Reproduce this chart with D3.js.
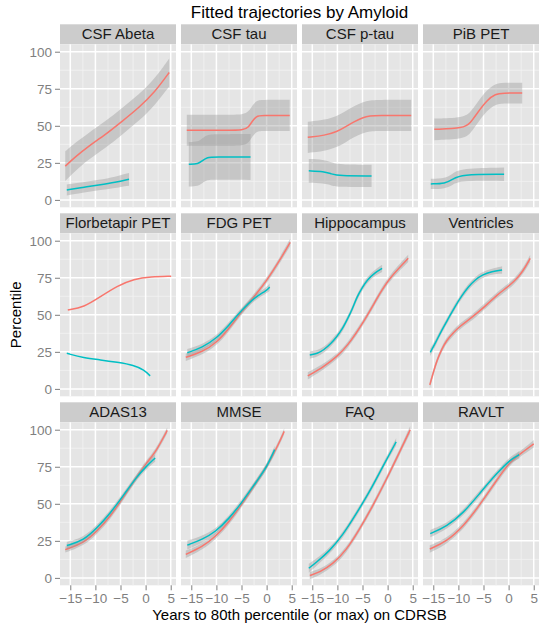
<!DOCTYPE html>
<html>
<head>
<meta charset="utf-8">
<script src="https://cdn.jsdelivr.net/npm/d3@7"></script>
<style>
  body { margin: 0; background: #fff; }
  text { font-family: "Liberation Sans", Arial, sans-serif; }
</style>
</head>
<body>
<svg id="chart"></svg>
<script>
// facet names, in reading order
const panelNames = ['CSF Abeta', 'CSF tau', 'CSF p-tau', 'PiB PET',
                    'Florbetapir PET', 'FDG PET', 'Hippocampus', 'Ventricles',
                    'ADAS13', 'MMSE', 'FAQ', 'RAVLT'];
const xTicks = [-15, -10, -5, 0, 5];
const yTicks = [0, 25, 50, 75, 100];

// [year, percentile, ribbon half width]  -- Pos = amyloid positive (red), Neg = negative (teal)
const abetaPos = [[-16,22.8,10],[-14,29,9.5],[-11.4,36.2,9],[-8,44,9],[-4.7,53,9],[-1.4,62,9],[1.9,73,9],[4.7,86,9.5]];
const abetaNeg = [[-15.7,6.7,3.7],[-12.5,8.4,3.5],[-9.4,10,3.5],[-6,11.8,3.8],[-3.3,13.9,4.3]];
const tauPos = [[-15.9,47,10.5],[-8,47,10.5],[-4.6,47,10.5],[-3.6,49,10.5],[-2.8,53.5,10.5],[-2,56.5,10.5],[-1.2,57,10.5],[4.6,57,10.5]];
const tauNeg = [[-15.5,24,15],[-13.6,24.2,15],[-12.8,26.5,15],[-11.8,28.8,15.2],[-10.5,29,15.3],[-3.2,29,15.5]];
const ptauPos = [[-15.9,42.2,10.5],[-12.5,43.5,10.5],[-10.1,46,10.5],[-8.3,49.5,10.5],[-6.7,52.8,10.5],[-5,55.5,10.5],[-3.5,56.8,10.5],[-2,57,10.5],[4.7,57,10.5]];
const ptauNeg = [[-15.7,19.6,8],[-12.7,19.2,8],[-11.2,17.5,7.8],[-9.7,16.2,7.6],[-3.2,16.2,7.5]];
const pibPos = [[-14.8,47.6,7.3],[-8.9,48.3,7.2],[-7.6,52,7.2],[-6.3,58.4,7.1],[-4.3,67.4,7],[-2.6,71.5,7],[-1.2,72.1,7],[2.7,72.1,7]];
const pibNeg = [[-15.5,10.8,3.4],[-12.6,11,3.5],[-11.1,14,3.8],[-9.6,17.2,4.2],[-0.9,17.3,4.5]];
const florPos = [[-15.5,53.3,0],[-12.3,55,0],[-9,62.2,0],[-5.7,69.4,0],[-2.3,74.2,0],[1,75.7,0],[5.1,76,0]];
const florNeg = [[-15.7,24,0],[-12.3,20.9,0],[-9,19.6,0],[-5.7,18,0],[-2.3,16,0],[-0.3,12.8,0],[0.9,8.8,0]];
const fdgPos = [[-16.1,21.3,2.5],[-12.8,25,2],[-10,31,2],[-7.5,40.7,2],[-5,52,2],[-2.3,63,2],[0,73,2],[2.4,85.5,2],[4.7,98.9,2.5]];
const fdgNeg = [[-15.8,24.4,2.5],[-12.8,28,2],[-10,34,2],[-7.5,43,2],[-5,53,2],[-2.3,62,2],[0,66.4,2],[0.6,68.7,2.5]];
const hippoPos = [[-15.9,8.8,2.5],[-12.7,15,2],[-10.1,21.8,2],[-8.1,28.5,2],[-4.7,45.4,2],[-1.4,65.6,2],[0.6,75.7,2],[4.1,88.1,2.5]];
const hippoNeg = [[-15.5,22.9,2.5],[-14,23.8,2.2],[-12.7,26.3,2],[-11.3,30.5,2],[-10.1,35.3,2],[-9,40.5,2],[-8.1,46.5,2],[-7,54,2],[-6.1,62.2,2],[-5,68.5,2],[-4.1,73.5,2],[-2.5,78.5,2],[-1.1,81.3,2.5]];
const ventPos = [[-15.7,2.7,2.5],[-15,11,2.2],[-14.3,19,2],[-13.3,27,2],[-12.3,33,2],[-11,38,2],[-9.6,42.5,2],[-8,46.5,2],[-6.3,51,2],[-4.3,57,2],[-2.3,63.4,2],[-0.5,68,2],[1.1,72.4,2],[2.8,79,2],[4.3,88.1,2.5]];
const ventNeg = [[-15.6,24.7,2.5],[-14.5,31.5,2.2],[-13.3,39.8,2],[-12,47.5,2],[-10.7,55.5,2],[-9.3,63,2],[-8,69,2],[-6.7,73.5,2],[-5.3,76.9,2],[-3.3,79.3,2],[-1.3,80.2,2.5]];
const adasPos = [[-16,19.1,2],[-12.3,23.6,2],[-9.7,31.4,2],[-7,41.6,2],[-4.3,55,2],[-1.7,68.5,2],[0,77,2],[1.9,84.2,2],[4.3,99.5,2]];
const adasNeg = [[-15.7,21.8,2.5],[-12.3,25.4,2],[-9.7,33.7,2],[-7,43.8,2],[-4.3,56.2,2],[-1.7,68.5,2],[0,74.8,2],[1.9,80.9,2.5]];
const mmsePos = [[-16.1,15.9,2.5],[-12.8,21,2],[-10.2,27.7,2],[-7.5,37.8,2],[-4.9,49.7,2],[-1.6,67,2],[0,74.7,2],[2.4,90.4,2],[3.5,98.9,2]];
const mmseNeg = [[-15.8,22.1,3],[-12.8,26,2.5],[-10.2,31,2],[-7.5,40,2],[-4.9,51,2],[-1.6,67,2],[0,74.7,2],[1.6,86.6,2.5]];
const faqPos = [[-15.5,1.6,2.5],[-13.5,3.8,2],[-10.9,9.4,2],[-8.3,18.3,2],[-5.6,32.7,2],[-3,48.3,2],[-0.3,66,2],[2.4,85,2],[4.5,100,2.5]];
const faqNeg = [[-15.7,6.5,3],[-14.2,10.5,2.5],[-11.6,18,2],[-8.9,29,2],[-6.3,43,2],[-3.6,58,2],[-1,75,2],[1.7,91.8,2.5]];
const ravltPos = [[-15.7,19.5,2.5],[-12.3,24.7,2],[-9,34.8,2],[-5.7,49.4,2],[-2.3,66.3,2],[0.3,78.6,2],[3,85.4,2],[5,90.5,2.5]];
const ravltNeg = [[-15.6,29.9,2.5],[-12.3,34.8,2],[-9,43.8,2],[-5.7,57.3,2],[-2.3,70.8,2],[0.3,79.8,2],[2.1,83.1,2.5]];

const posCurves = [abetaPos, tauPos, ptauPos, pibPos, florPos, fdgPos, hippoPos, ventPos, adasPos, mmsePos, faqPos, ravltPos];
const negCurves = [abetaNeg, tauNeg, ptauNeg, pibNeg, florNeg, fdgNeg, hippoNeg, ventNeg, adasNeg, mmseNeg, faqNeg, ravltNeg];

const w = 539;
const h = 630;
const padLeft = 60, padTop = 44.3;
const pw = 116, ph = 163;
const gapx = 5, stripH = 20, rowStep = 189;

const svg = d3.select('#chart').attr('width', w).attr('height', h);

const xScale = d3.scaleLinear().domain([-17.05, 6.05]).range([0, pw]);
const yScale = d3.scaleLinear().domain([-5, 105]).range([ph, 0]);

const line = d3.line()
  .x((d) => xScale(d[0]))
  .y((d) => yScale(d[1]))
  .curve(d3.curveBasis);
const band = d3.area()
  .x((d) => xScale(d[0]))
  .y0((d) => yScale(d[1] - d[2]))
  .y1((d) => yScale(d[1] + d[2]))
  .curve(d3.curveBasis);

svg.append('text')
  .attr('x', padLeft + (4 * pw + 3 * gapx) / 2)
  .attr('y', 18)
  .attr('text-anchor', 'middle')
  .attr('font-size', 17)
  .attr('fill', '#000')
  .text('Fitted trajectories by Amyloid');

panelNames.forEach((name, i) => {
  const col = i % 4, row = Math.floor(i / 4);
  const g = svg.append('g')
    .attr('transform', 'translate(' + (padLeft + col * (pw + gapx)) + ',' + (padTop + row * rowStep) + ')');

  // strip
  g.append('rect').attr('x', 0).attr('y', -stripH).attr('width', pw).attr('height', stripH).attr('fill', '#CCCCCC');
  g.append('text')
    .attr('x', pw / 2).attr('y', -5)
    .attr('text-anchor', 'middle')
    .attr('font-size', 15)
    .attr('fill', '#1A1A1A')
    .text(name);

  // panel + grid
  g.append('rect').attr('width', pw).attr('height', ph).attr('fill', '#E5E5E5');
  const minorX = [-12.5, -7.5, -2.5, 2.5];
  const minorY = [12.5, 37.5, 62.5, 87.5];
  g.selectAll('.mx').data(minorX).enter().append('line')
    .attr('x1', (d) => xScale(d)).attr('x2', (d) => xScale(d))
    .attr('y1', 0).attr('y2', ph)
    .attr('stroke', '#F2F2F2').attr('stroke-width', 0.8);
  g.selectAll('.my').data(minorY).enter().append('line')
    .attr('y1', (d) => yScale(d)).attr('y2', (d) => yScale(d))
    .attr('x1', 0).attr('x2', pw)
    .attr('stroke', '#F2F2F2').attr('stroke-width', 0.8);
  g.selectAll('.gx').data(xTicks).enter().append('line')
    .attr('x1', (d) => xScale(d)).attr('x2', (d) => xScale(d))
    .attr('y1', 0).attr('y2', ph)
    .attr('stroke', '#fff').attr('stroke-width', 1.5);
  g.selectAll('.gy').data(yTicks).enter().append('line')
    .attr('y1', (d) => yScale(d)).attr('y2', (d) => yScale(d))
    .attr('x1', 0).attr('x2', pw)
    .attr('stroke', '#fff').attr('stroke-width', 1.5);

  // smooths: ribbon then line per group
  [[posCurves[i], '#F8766D'], [negCurves[i], '#00BFC4']].forEach(([pts, colr]) => {
    if (pts[0][2] > 0) {
      g.append('path').attr('d', band(pts)).attr('fill', '#999999').attr('fill-opacity', 0.4);
    }
    g.append('path').attr('d', line(pts))
      .attr('fill', 'none').attr('stroke', colr).attr('stroke-width', 1.5);
  });

  // axes
  if (col === 0) {
    const yAxis = d3.axisLeft(yScale).tickValues(yTicks).tickSize(5).tickPadding(3);
    const ya = g.append('g').call(yAxis);
    ya.select('.domain').remove();
    ya.selectAll('line').attr('stroke', '#7F7F7F');
    ya.selectAll('text').attr('fill', '#7F7F7F').attr('font-size', 13.5)
      .attr('font-family', '"Liberation Sans", Arial, sans-serif');
  }
  if (row === 2) {
    const xAxis = d3.axisBottom(xScale).tickValues(xTicks).tickSize(5).tickPadding(3);
    const xa = g.append('g').attr('transform', 'translate(0,' + ph + ')').call(xAxis);
    xa.select('.domain').remove();
    xa.selectAll('line').attr('stroke', '#7F7F7F');
    xa.selectAll('text').attr('fill', '#7F7F7F').attr('font-size', 13.5)
      .attr('font-family', '"Liberation Sans", Arial, sans-serif');
  }
});

svg.append('text')
  .attr('x', padLeft + (4 * pw + 3 * gapx) / 2)
  .attr('y', 620)
  .attr('text-anchor', 'middle')
  .attr('font-size', 15)
  .attr('fill', '#000')
  .text('Years to 80th percentile (or max) on CDRSB');

svg.append('text')
  .attr('transform', 'translate(21,' + (padTop + (2 * rowStep + ph) / 2) + ') rotate(-90)')
  .attr('text-anchor', 'middle')
  .attr('font-size', 15)
  .attr('fill', '#000')
  .text('Percentile');
</script>
</body>
</html>
